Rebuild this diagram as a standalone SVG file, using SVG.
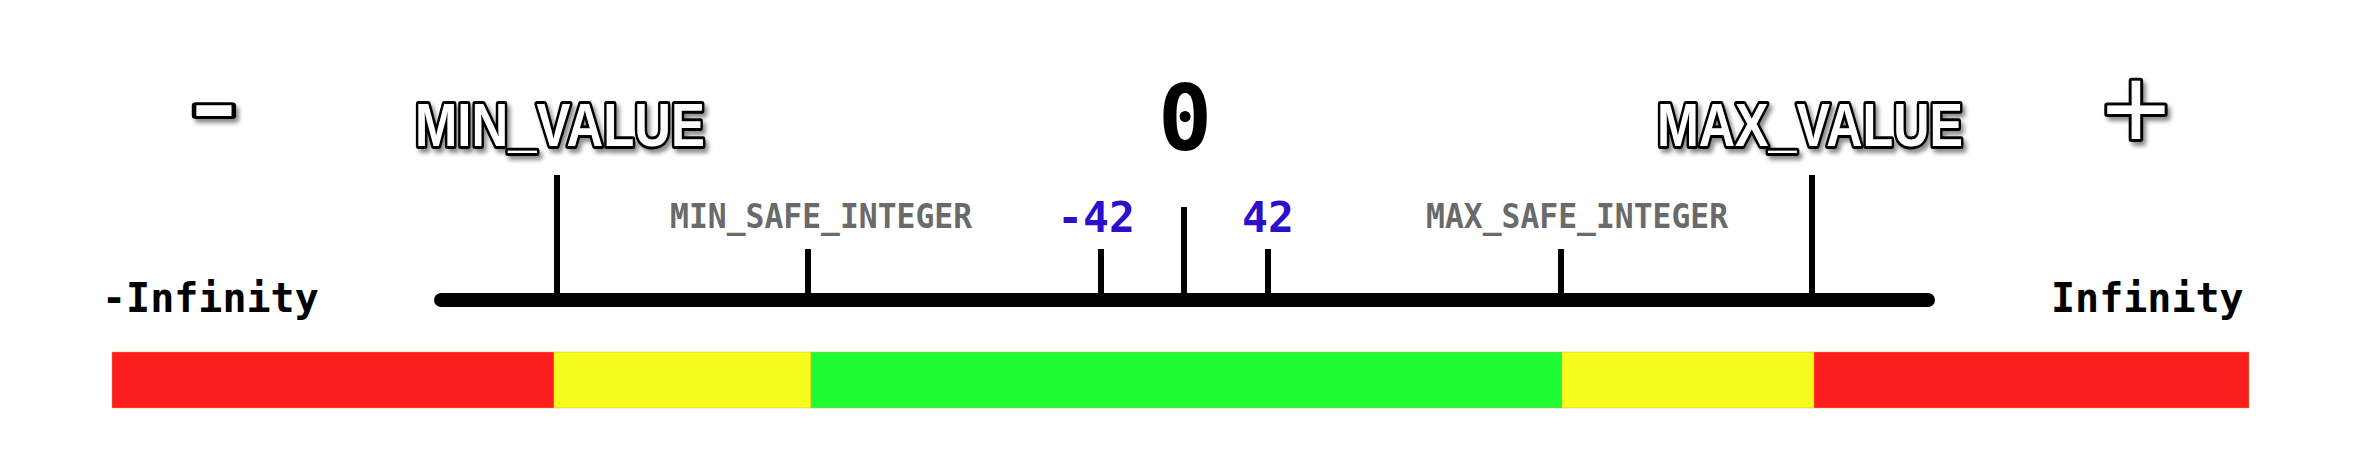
<svg xmlns="http://www.w3.org/2000/svg" width="2368" height="463" viewBox="0 0 2368 463">
  <defs>
    <filter id="shadow" x="-10%" y="-30%" width="130%" height="170%">
      <feDropShadow dx="3" dy="4" stdDeviation="2" flood-color="#000" flood-opacity="0.45"/>
    </filter>
  </defs>
  <style>
    .outline { font-family: "Liberation Sans", Arial, sans-serif; font-weight: bold; fill: #fff; stroke: #000; stroke-width: 6; paint-order: stroke; stroke-linejoin: round; filter: url(#shadow); }
    .mono { font-family: "DejaVu Sans Mono", "Liberation Mono", monospace; }
    .inf { font-size: 40px; font-weight: bold; fill: #000; }
    .safe { font-size: 34px; font-weight: bold; fill: #6a6a6a; }
    .num { font-size: 43px; font-weight: bold; fill: #2b0fc9; }
    .tick { stroke: #000; stroke-width: 6; }
    .axis { stroke: #000; stroke-width: 14; stroke-linecap: round; }
    .seg { stroke: #f5a623; stroke-opacity: 0.45; stroke-width: 1; }
  </style>
  <rect width="2368" height="463" fill="#fff"/>

  <g id="bar">
    <rect class="seg" x="112" y="352" width="442" height="56" fill="#fc1e1e"/>
    <rect class="seg" x="554" y="352" width="257" height="56" fill="#f3fc1c"/>
    <rect class="seg" x="811" y="352" width="751" height="56" fill="#1efd33"/>
    <rect class="seg" x="1562" y="352" width="252" height="56" fill="#f3fc1c"/>
    <rect class="seg" x="1814" y="352" width="435" height="56" fill="#fc1e1e"/>
  </g>

  <g id="connectors">
    <line class="axis" x1="441" y1="300" x2="1928" y2="300"/>
    <line class="tick" x1="557" y1="175" x2="557" y2="300"/>
    <line class="tick" x1="808" y1="249" x2="808" y2="300"/>
    <line class="tick" x1="1101" y1="249" x2="1101" y2="300"/>
    <line class="tick" x1="1184" y1="207" x2="1184" y2="300"/>
    <line class="tick" x1="1268" y1="249" x2="1268" y2="300"/>
    <line class="tick" x1="1561" y1="249" x2="1561" y2="300"/>
    <line class="tick" x1="1812" y1="175" x2="1812" y2="300"/>
  </g>

  <g id="minus-sign">
    <text class="outline" x="214" y="134" font-size="90" text-anchor="middle" textLength="46" lengthAdjust="spacingAndGlyphs">-</text>
  </g>
  <g id="plus-sign">
    <text class="outline" x="2136" y="149" font-size="118" style="font-weight:normal" text-anchor="middle">+</text>
  </g>

  <g id="min-value">
    <text class="outline" x="560" y="146" font-size="61" text-anchor="middle" textLength="290" lengthAdjust="spacingAndGlyphs">MIN_VALUE</text>
  </g>
  <g id="max-value">
    <text class="outline" x="1810" y="146" font-size="61" text-anchor="middle" textLength="306" lengthAdjust="spacingAndGlyphs">MAX_VALUE</text>
  </g>

  <g id="zero">
    <text class="mono" x="1185" y="150" font-size="90" font-weight="bold" text-anchor="middle">0</text>
  </g>
  <g id="neg-42">
    <text class="mono num" x="1096" y="232" text-anchor="middle">-42</text>
  </g>
  <g id="pos-42">
    <text class="mono num" x="1268" y="232" text-anchor="middle">42</text>
  </g>

  <g id="min-safe-integer">
    <text class="mono safe" x="670" y="228" textLength="302" lengthAdjust="spacingAndGlyphs">MIN_SAFE_INTEGER</text>
  </g>
  <g id="max-safe-integer">
    <text class="mono safe" x="1426" y="228" textLength="302" lengthAdjust="spacingAndGlyphs">MAX_SAFE_INTEGER</text>
  </g>

  <g id="neg-infinity">
    <text class="mono inf" x="102" y="312">-Infinity</text>
  </g>
  <g id="pos-infinity">
    <text class="mono inf" x="2051" y="312">Infinity</text>
  </g>
</svg>
